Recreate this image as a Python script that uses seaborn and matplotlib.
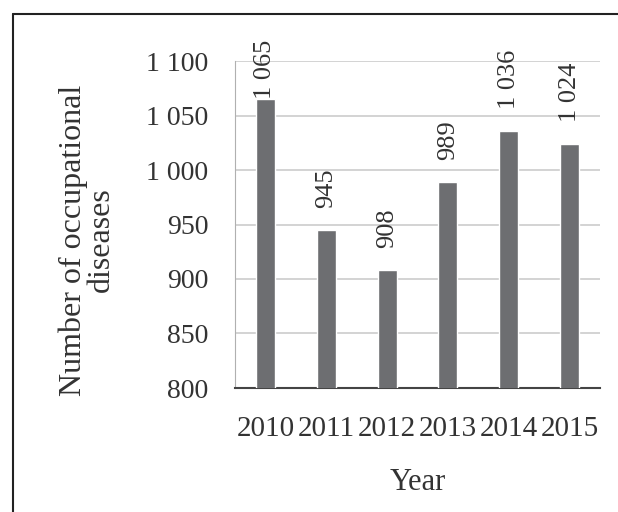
import numpy as np
import pandas as pd
import seaborn as sns
import matplotlib.pyplot as plt
from matplotlib.lines import Line2D

# data
years = ['2010', '2011', '2012', '2013', '2014', '2015']
cases = [1065, 945, 908, 989, 1036, 1024]
y_ticks = [800, 850, 900, 950, 1000, 1050, 1100]


def fmt(v):
    return f'{v:,}'.replace(',', ' ')


df = pd.DataFrame({'year': years, 'cases': cases})

sns.set_style('white')
plt.rcParams['font.family'] = ['Liberation Serif', 'DejaVu Serif']

fig = plt.figure(figsize=(6.18, 5.12), dpi=100)
ax = fig.add_axes([235 / 618, 1 - 388 / 512, 365 / 618, 327 / 512])

sns.barplot(df, x='year', y='cases', color='#6d6e71', saturation=1,
            width=0.31, ax=ax, zorder=3)

ax.set_ylim(800, 1100)
ax.set_yticks(y_ticks)
ax.set_yticklabels([fmt(v) for v in y_ticks])
ax.yaxis.grid(True, color='#cccccc', linewidth=1.2, zorder=0)
ax.set_axisbelow(True)

# labels sit above the bars; the tallest one is pushed down like Excel does
for i, v in enumerate(cases):
    off = 16 if v < 1050 else 0
    ax.annotate(fmt(v), (i, v), xytext=(0, off), textcoords='offset points',
                rotation=90, ha='center', va='bottom', fontsize=19,
                color='#333333', annotation_clip=False)

ax.tick_params(axis='both', length=0, colors='#333333')
ax.tick_params(axis='x', pad=20, labelsize=21)
ax.tick_params(axis='y', pad=19, labelsize=20)
ax.set_xlabel('')
ax.set_ylabel('')

for s in ['top', 'right']:
    ax.spines[s].set_visible(False)
ax.spines['left'].set_color('#b0b0b0')
ax.spines['bottom'].set_color('#444444')
ax.spines['bottom'].set_linewidth(1.5)

fig.text(418 / 618, 1 - 482 / 512, 'Year', ha='center', va='center',
         fontsize=22, color='#333333')
fig.text(87 / 618, 1 - 240 / 512, 'Number of occupational\ndiseases',
         rotation=90, ha='center', va='center', fontsize=23,
         color='#333333', linespacing=0.95)

# page frame cropped at right and bottom
fig.add_artist(Line2D([13 / 618, 13 / 618], [0, 1 - 14 / 512],
                      transform=fig.transFigure, color='#222222', lw=1.5))
fig.add_artist(Line2D([13 / 618, 1], [1 - 14 / 512, 1 - 14 / 512],
                      transform=fig.transFigure, color='#222222', lw=1.5))

fig.savefig('out.png', dpi=100)
